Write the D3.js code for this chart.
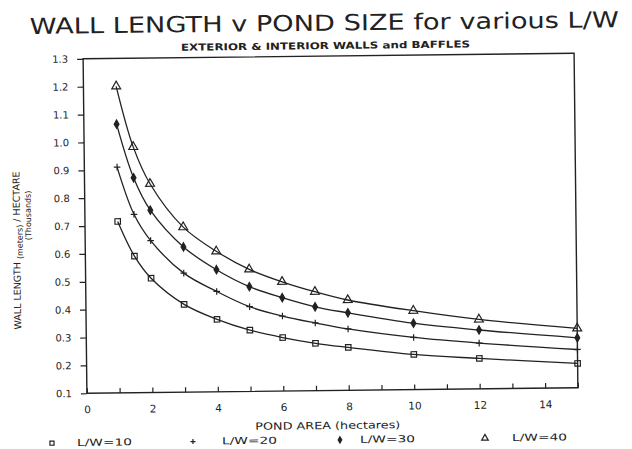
<!DOCTYPE html>
<html>
<head>
<meta charset="utf-8">
<script src="https://cdn.jsdelivr.net/npm/d3@7"></script>
<style>
    body { margin: 0; background: #fff; }
    svg { display: block; }
    text { font-family: "DejaVu Sans", sans-serif; fill: #222; }
</style>
</head>
<body>
<svg id="chart" width="632" height="449"></svg>
<script>
// values
const pondArea = [1, 1.5, 2, 3, 4, 5, 6, 7, 8, 10, 12, 15]
const lw10 = [0.715, 0.59, 0.51, 0.415, 0.36, 0.32, 0.292, 0.27, 0.254, 0.226, 0.209, 0.187]
const lw20 = [0.91, 0.74, 0.645, 0.527, 0.46, 0.404, 0.369, 0.343, 0.32, 0.287, 0.264, 0.237]
const lw30 = [1.064, 0.871, 0.754, 0.621, 0.538, 0.476, 0.435, 0.401, 0.378, 0.338, 0.311, 0.279]
const lw40 = [1.2, 0.982, 0.849, 0.692, 0.604, 0.538, 0.492, 0.455, 0.424, 0.383, 0.349, 0.313]
const seriesNames = ["L/W=10", "L/W=20", "L/W=30", "L/W=40"]
const xTickLabels = [0, 2, 4, 6, 8, 10, 12, 14]
const yTickLabels = [0.1, 0.2, 0.3, 0.4, 0.5, 0.6, 0.7, 0.8, 0.9, 1.0, 1.1, 1.2, 1.3]

const ink = "#222"
const plot = {left: 85, right: 576, top: 56, bottom: 390.5}

const svg = d3.select("#chart")
// the scan is slightly tilted
const root = svg.append("g").attr("transform", "rotate(-0.65,330,223)")

const x = d3.scaleLinear().domain([0, 15]).range([plot.left, plot.right])
const y = d3.scaleLinear().domain([0.1, 1.3]).range([plot.bottom, plot.top])

function wideText(g, px, py, size, len, str) {
    return g.append("text")
        .attr("x", px).attr("y", py)
        .attr("font-size", size)
        .attr("textLength", len)
        .attr("lengthAdjust", "spacingAndGlyphs")
        .text(str)
}

function drawTitles() {
    wideText(root, 32, 30.5, 22, 589, "WALL LENGTH v POND SIZE for various L/W")
    wideText(root, 183, 49, 9.5, 289, "EXTERIOR & INTERIOR WALLS and BAFFLES")
        .attr("font-weight", "bold").attr("fill", "#333")
    wideText(root, 253, 429, 10, 145, "POND AREA (hectares)")

    // y title, with the unit written as a subscript
    let yt = root.append("text")
        .attr("transform", "translate(20,326) rotate(-90)")
        .attr("font-size", 9.5)
    yt.append("tspan").text("WALL LENGTH ")
    yt.append("tspan").attr("font-size", 8).attr("dy", 2.5).text("(meters)")
    yt.append("tspan").attr("dy", -2.5).text(" / HECTARE")

    root.append("text")
        .attr("transform", "translate(31,212) rotate(-90)")
        .attr("text-anchor", "middle")
        .attr("font-size", 8)
        .text("(Thousands)")
}

function drawAxes() {
    root.append("rect")
        .attr("x", plot.left).attr("y", plot.top)
        .attr("width", plot.right - plot.left)
        .attr("height", plot.bottom - plot.top)
        .attr("fill", "none")
        .attr("stroke", ink)
        .attr("stroke-width", 1.4)

    let xAxis = root.append("g")
        .attr("transform", `translate(0,${plot.bottom})`)
        .call(d3.axisBottom(x).tickValues(d3.range(0, 16)).tickSize(-5)
            .tickFormat(d => xTickLabels.includes(d) ? d : ""))
    xAxis.select(".domain").remove()
    xAxis.selectAll("line").attr("stroke", ink).attr("stroke-width", 1.2)
    xAxis.selectAll("text")
        .attr("y", 20).attr("dy", 0)
        .attr("font-size", 10.5)
        .attr("fill", ink)

    let yAxis = root.append("g")
        .attr("transform", `translate(${plot.left},0)`)
        .call(d3.axisLeft(y).tickValues(yTickLabels).tickSize(6).tickPadding(9)
            .tickFormat(d3.format(".1f")))
    yAxis.select(".domain").remove()
    yAxis.selectAll("line").attr("stroke", ink).attr("stroke-width", 1.2)
    yAxis.selectAll("text")
        .attr("font-size", 10)
        .attr("fill", ink)
}

const markers = [
    {type: d3.symbolSquare, size: 30, fill: "none"},
    {type: d3.symbolCross, size: 36, fill: "none", plus: true},
    {type: d3.symbolDiamond, size: 20, fill: ink},
    {type: d3.symbolTriangle, size: 34, fill: "none"}
]

function plusPath(s) {
    return `M${-s},0H${s}M0,${-s}V${s}`
}

function marker(g, m, px, py, scale = 1) {
    let path = m.plus ? plusPath(3.3 * scale) : d3.symbol().type(m.type).size(m.size * scale * scale)()
    g.append("path")
        .attr("d", path)
        .attr("transform", `translate(${px},${py})`)
        .attr("fill", m.fill)
        .attr("stroke", ink)
        .attr("stroke-width", 1.2)
}

function drawSeries() {
    const allSeries = [lw10, lw20, lw30, lw40]
    const line = d3.line()
        .x((d, i) => x(pondArea[i]))
        .y(d => y(d))
        .curve(d3.curveCatmullRom.alpha(0.5))

    allSeries.forEach((vals, k) => {
        let g = root.append("g").attr("class", "series")
        g.append("path")
            .attr("d", line(vals))
            .attr("fill", "none")
            .attr("stroke", ink)
            .attr("stroke-width", 1.3)

        vals.forEach((v, i) => marker(g, markers[k], x(pondArea[i]), y(v)))
    })
}

function drawLegend() {
    const markX = [49.5, 190.5, 337.5, 482.5]
    const textX = [74.5, 219.5, 357.5, 509.5]
    let g = root.append("g").attr("class", "legend")

    seriesNames.forEach((name, k) => {
        marker(g, markers[k], markX[k], 440, 0.75)
        wideText(g, textX[k], 443, 9.5, 55, name)
    })
}

drawTitles()
drawAxes()
drawSeries()
drawLegend()
</script>
</body>
</html>
